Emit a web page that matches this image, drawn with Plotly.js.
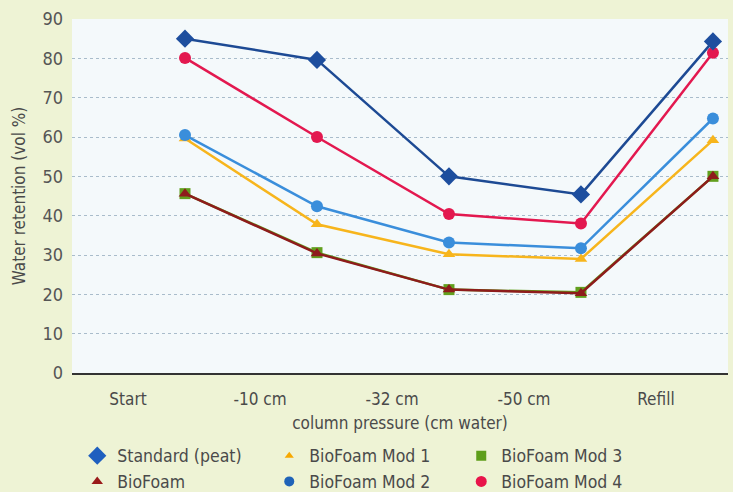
<!DOCTYPE html>
<html>
<head>
<meta charset="utf-8">
<script src="https://cdn.plot.ly/plotly-3.0.1.min.js"></script>
<style>html,body{margin:0;padding:0;background:#eef3d5;}#chart{width:733px;height:492px;}</style>
</head>
<body>
<div id="chart"></div>
<script>
const categories = ["Start", "-10 cm", "-32 cm", "-50 cm", "Refill"];
const standardPeat = [85, 79.6, 50, 45.4, 84.3];
const bioFoam = [45.6, 30.4, 21.2, 20.3, 50];
const bioFoamMod1 = [59.6, 37.8, 30.2, 29, 59.2];
const bioFoamMod2 = [60.5, 42.4, 33.2, 31.7, 64.7];
const bioFoamMod3 = [45.6, 30.6, 21.2, 20.5, 50];
const bioFoamMod4 = [80.1, 60, 40.4, 38, 81.4];
const yTicks = [0, 10, 20, 30, 40, 50, 60, 70, 80, 90];

const font = "'DejaVu Sans Condensed', 'Liberation Sans Narrow', 'DejaVu Sans', sans-serif";

function tr(name, y, color, symbol, size, lineColor) {
  return {
    type: 'scatter', mode: 'lines+markers', name: name,
    x: categories, y: y, showlegend: false,
    line: {color: lineColor || color, width: 2.5},
    marker: {color: color, symbol: symbol, size: size}
  };
}
function leg(name, color, symbol, size, rank) {
  return {
    type: 'scatter', mode: 'markers', name: name,
    x: [null], y: [null], showlegend: true, legendrank: rank,
    marker: {color: color, symbol: symbol, size: size}
  };
}

const data = [
  tr('BioFoam Mod 3', bioFoamMod3, '#62a01e', 'square', 11),
  tr('BioFoam Mod 1', bioFoamMod1, '#f7b51c', 'triangle-up', 11),
  tr('BioFoam Mod 2', bioFoamMod2, '#3a8edb', 'circle', 12),
  tr('BioFoam', bioFoam, '#8e1b1b', 'triangle-up', 11),
  tr('BioFoam Mod 4', bioFoamMod4, '#e3184f', 'circle', 12),
  tr('Standard (peat)', standardPeat, '#1d4e9e', 'diamond', 14, '#1d4a94'),
  leg('Standard (peat)', '#1f5fbf', 'diamond', 14, 1),
  leg('BioFoam Mod 1', '#f7a800', 'triangle-up', 8, 2),
  leg('BioFoam Mod 3', '#5e9e1a', 'square', 10, 3),
  leg('BioFoam', '#9a1a1a', 'triangle-up', 10, 4),
  leg('BioFoam Mod 2', '#1f63b8', 'circle', 10, 5),
  leg('BioFoam Mod 4', '#e8144a', 'circle', 11, 6)
];

const layout = {
  width: 733, height: 492,
  paper_bgcolor: '#eef3d5',
  plot_bgcolor: '#f4f9fb',
  margin: {l: 72, r: 5, t: 19, b: 119, autoexpand: false},
  font: {family: font, color: '#4a4a4a', size: 17},
  showlegend: true,
  legend: {
    orientation: 'h', x: 0.008, xanchor: 'left', y: -0.183, yanchor: 'top',
    entrywidth: 147, entrywidthmode: 'pixels',
    font: {family: font, size: 17.5, color: '#4a4a4a'},
    bgcolor: 'rgba(0,0,0,0)', tracegroupgap: 0, itemwidth: 30,
    itemsizing: 'trace'
  },
  xaxis: {
    type: 'category', range: [-0.856, 4.114],
    showgrid: false, zeroline: false,
    showline: true, linecolor: '#333333', linewidth: 2,
    ticks: '', ticklabelshift: -57, ticklabelstandoff: 10,
    tickfont: {family: font, size: 17, color: '#4a4a4a'},
    title: {text: 'column pressure (cm water)', font: {family: font, size: 17, color: '#4a4a4a'}, standoff: 9},
    fixedrange: true, automargin: false
  },
  yaxis: {
    range: [0, 90], tickvals: yTicks, ticktext: yTicks.map(String),
    showgrid: true, gridcolor: '#a9bccb', griddash: 'dot', gridwidth: 1,
    zeroline: false, showline: false, ticks: '',
    ticklabelstandoff: 8,
    tickfont: {family: font, size: 18, color: '#555555'},
    title: {text: 'Water retention (vol %)', font: {family: font, size: 17, color: '#4a4a4a'}, standoff: 12},
    fixedrange: true, automargin: false
  }
};

Plotly.newPlot('chart', data, layout, {displayModeBar: false, staticPlot: true});
</script>
</body>
</html>
